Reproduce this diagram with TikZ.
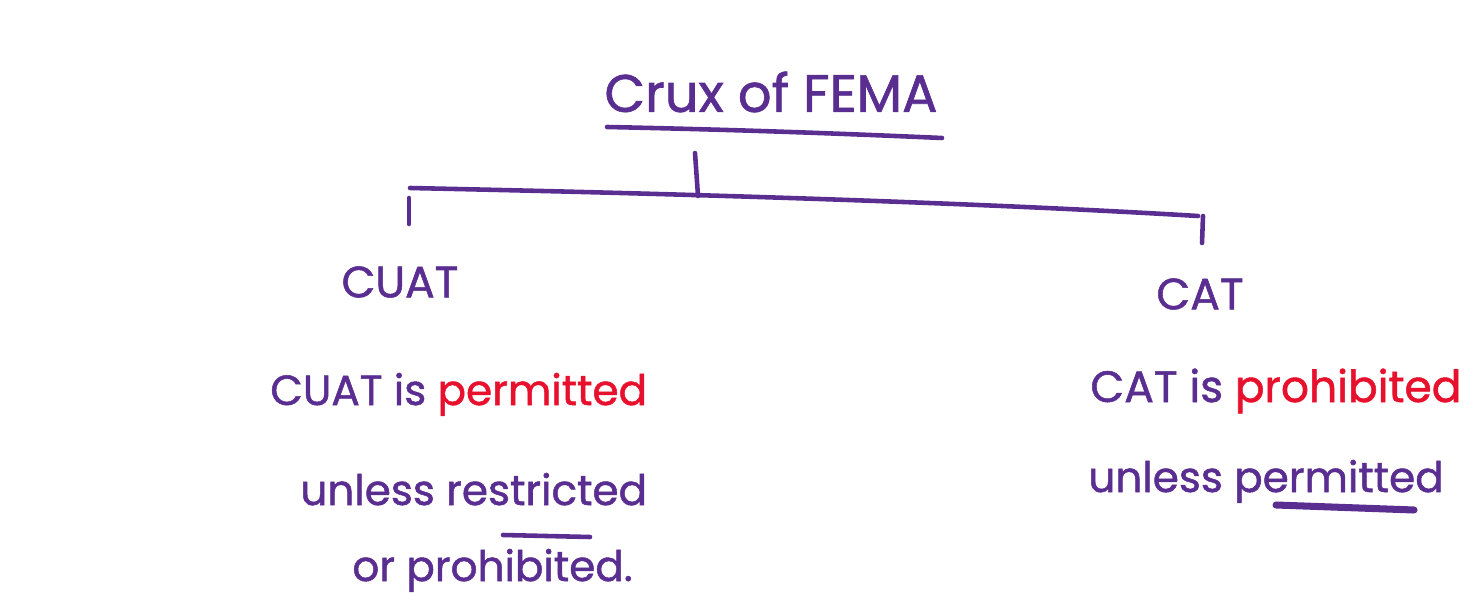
\documentclass[tikz,border=0pt]{standalone}
\usepackage{fontspec}
\setmainfont{Poppins}[FakeBold=1.2]
\definecolor{ink}{RGB}{90,45,145}
\definecolor{hot}{RGB}{232,17,45}
\begin{document}
\begin{tikzpicture}[x=0.2mm,y=-0.2mm,
  pen/.style={draw=ink,line width=2.6pt,line cap=round,line join=round},
  heavy/.style={pen,line width=4pt},
  title/.style={text=ink,font=\fontsize{30}{34}\selectfont,inner sep=0pt},
  label/.style={text=ink,font=\fontsize{25}{30}\selectfont,inner sep=0pt},
  body/.style={text=ink,font=\fontsize{24}{28}\selectfont,inner sep=0pt,anchor=base west}]
\useasboundingbox (0,0) rectangle (1476,593);

% heading and its underline
\node[title] (crux) at (771,92) {Crux of FEMA};
\coordinate (ulA) at (607,127);
\coordinate (ulB) at (942,138);
\draw[pen] (ulA) .. controls (750,130) and (850,134) .. (ulB);

% the branching bar
\coordinate (stemTop) at (695,153);
\coordinate (stemFoot) at (698,196);
\coordinate (barL) at (410,188);
\coordinate (barR) at (1198,216);
\draw[pen] (stemTop) -- (stemFoot);
\draw[pen] (barL) .. controls (500,190) and (900,198) .. (barR);
\coordinate (tickLtop) at (409,198);
\coordinate (tickLbot) at (409,224);
\coordinate (tickRtop) at (1203,216);
\coordinate (tickRbot) at (1202,243);
\draw[pen] (tickLtop) -- (tickLbot);
\draw[pen] (tickRtop) -- (tickRbot);

% branch headings
\node[label] (cuat) at (400,282) {CUAT};
\node[label] (cat) at (1200,294) {CAT};

% left column
\node[body] (l1) at (270,405) {CUAT is \textcolor{hot}{permitted}};
\node[body] (l2) at (300,505) {unless restricted};
\node[body] (l3) at (352,581) {or prohibited.};
\coordinate (barA) at (503,535);
\coordinate (barB) at (590,537);
\draw[pen] (barA) -- (barB);

% right column
\node[body,font=\fontsize{25}{29}\selectfont] (r1) at (1090,402) {CAT is \textcolor{hot}{prohibited}};
\node[body] (r2) at (1088,492) {unless permitted};
\coordinate (perA) at (1276,505);
\coordinate (perB) at (1414,510);
\draw[heavy] (perA) -- (perB);
\end{tikzpicture}
\end{document}
